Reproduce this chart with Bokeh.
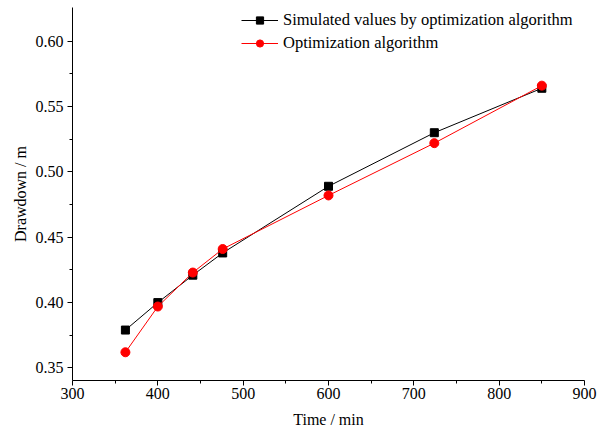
from bokeh.plotting import figure
from bokeh.models import Range1d, Legend, LegendItem, FixedTicker, CustomJSTickFormatter
from bokeh.embed import file_html
from bokeh.resources import INLINE

time_min = [362, 400, 441, 476, 600, 724, 850]
simulated = [0.379, 0.400, 0.421, 0.438, 0.489, 0.530, 0.564]
optimized = [0.362, 0.397, 0.423, 0.441, 0.482, 0.522, 0.566]

x_ticks = [300, 400, 500, 600, 700, 800, 900]
y_ticks = [0.35, 0.40, 0.45, 0.50, 0.55, 0.60]

FONT = "Liberation Serif"

p = figure(width=600, height=430, output_backend="svg", toolbar_location=None,
           x_range=Range1d(300, 900), y_range=Range1d(0.3404, 0.6258),
           min_border_left=72, min_border_right=16, min_border_top=7, min_border_bottom=50)
p.outline_line_color = None
p.xgrid.visible = False
p.ygrid.visible = False

for ax in (p.xaxis[0], p.yaxis[0]):
    ax.axis_line_color = "black"
    ax.axis_line_width = 1
    ax.major_tick_line_color = "black"
    ax.minor_tick_line_color = "black"
    ax.major_tick_out = 5
    ax.major_tick_in = 0
    ax.minor_tick_out = 3
    ax.minor_tick_in = 0
    ax.major_label_text_font = FONT
    ax.major_label_text_font_size = "16px"
    ax.major_label_text_color = "black"
    ax.axis_label_text_font = FONT
    ax.axis_label_text_font_size = "16px"
    ax.axis_label_text_font_style = "normal"
    ax.axis_label_text_color = "black"

p.xaxis.ticker = FixedTicker(ticks=x_ticks, minor_ticks=[350, 450, 550, 650, 750, 850])
p.yaxis.ticker = FixedTicker(ticks=y_ticks, minor_ticks=[0.375, 0.425, 0.475, 0.525, 0.575])
p.yaxis.formatter = CustomJSTickFormatter(code="return tick.toFixed(2);")
p.xaxis.axis_label = "Time / min"
p.yaxis.axis_label = "Drawdown / m"
p.xaxis.major_label_standoff = 2
p.yaxis.major_label_standoff = 4
p.xaxis.axis_label_standoff = 9
p.yaxis.axis_label_standoff = 4

l1 = p.line(time_min, simulated, line_color="black", line_width=1)
m1 = p.scatter(time_min, simulated, marker="square", size=8, color="black")
l2 = p.line(time_min, optimized, line_color="red", line_width=1)
m2 = p.scatter(time_min, optimized, marker="circle", size=9, color="red")

legend = Legend(items=[
    LegendItem(label="Simulated values by optimization algorithm", renderers=[l1, m1]),
    LegendItem(label="Optimization algorithm", renderers=[l2, m2]),
], location=(169, 327))
legend.background_fill_alpha = 0
legend.border_line_color = None
legend.label_text_font = FONT
legend.label_text_font_size = "16.5px"
legend.label_text_color = "black"
legend.glyph_width = 37
legend.glyph_height = 18
legend.label_height = 18
legend.spacing = 3
legend.padding = 0
legend.margin = 0
legend.label_standoff = 5
p.add_layout(legend)

open("out.html", "w").write(file_html(p, INLINE))
